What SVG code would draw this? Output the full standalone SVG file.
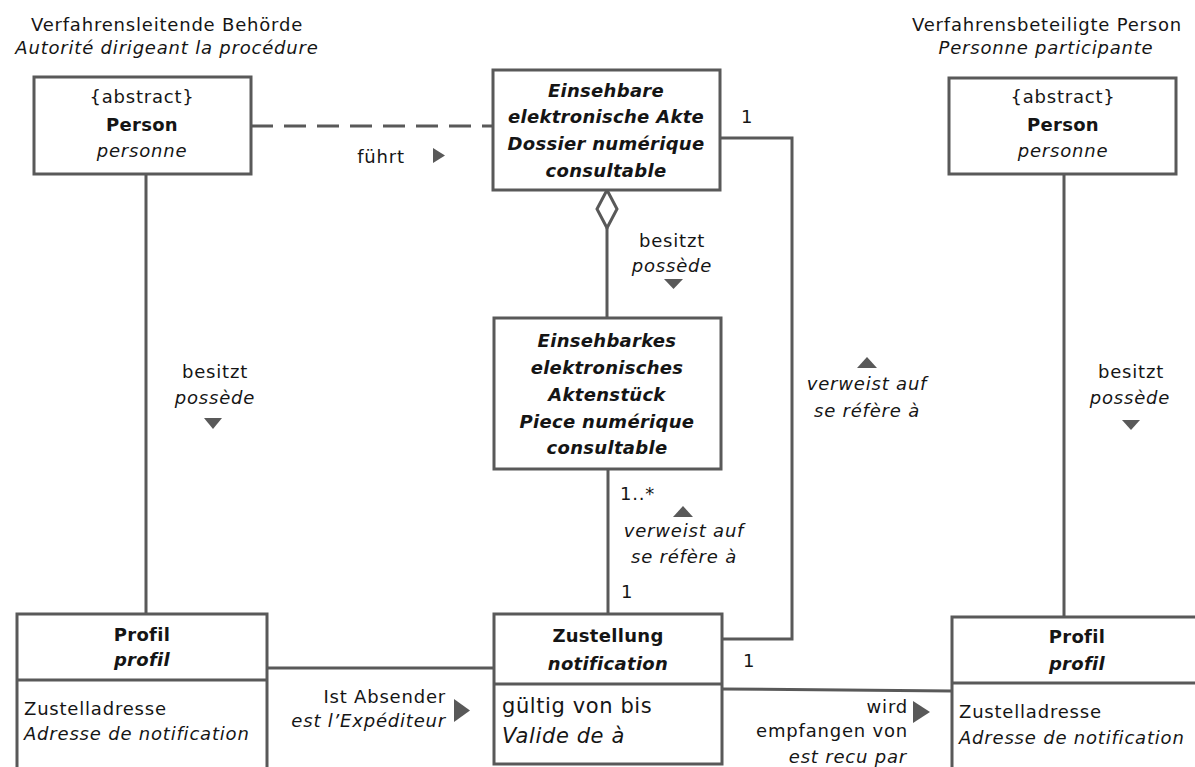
<svg xmlns="http://www.w3.org/2000/svg" width="1195" height="767" viewBox="0 0 1195 767">
  <style>
    text { font-family: "DejaVu Sans", Verdana, sans-serif; font-size: 18px; fill: #151515; letter-spacing: 0.8px; }
    .c { text-anchor: middle; }
    .r { text-anchor: end; }
    .b { font-weight: bold; letter-spacing: 0.3px; }
    .i { font-style: italic; }
    .big { font-size: 21px; letter-spacing: 0.6px; }
    .box { fill: #ffffff; stroke: #595959; stroke-width: 3; }
    .line { fill: none; stroke: #595959; stroke-width: 3; }
    .dash { stroke-dasharray: 22 11; }
    .tri { fill: #595959; }
  </style>

  <!-- role captions -->
  <g id="captions">
    <text class="c" x="167" y="31">Verfahrensleitende Behörde</text>
    <text class="c i" x="167" y="54">Autorité dirigeant la procédure</text>
    <text class="c" x="1047" y="31">Verfahrensbeteiligte Person</text>
    <text class="c i" x="1046" y="54">Personne participante</text>
  </g>

  <!-- connectors -->
  <g id="connectors">
    <line class="line dash" x1="251" y1="126" x2="493" y2="126"/>
    <line class="line" x1="146" y1="174" x2="146" y2="614"/>
    <line class="line" x1="1064" y1="174" x2="1064" y2="617"/>
    <polyline class="line" points="720,138 792,138 792,639 722,639"/>
    <line class="line" x1="607" y1="228" x2="607" y2="318"/>
    <polygon points="607,190 617,209 607,228 597,209" fill="#ffffff" stroke="#595959" stroke-width="3"/>
    <line class="line" x1="608" y1="469" x2="608" y2="614"/>
    <line class="line" x1="267" y1="668" x2="494" y2="668"/>
    <line class="line" x1="722" y1="689" x2="952" y2="691"/>
  </g>

  <!-- connector labels -->
  <g id="labels">
    <text class="c" x="381" y="163">führt</text>
    <polygon class="tri" points="433,148 445,155.5 433,163"/>

    <text x="741" y="123">1</text>

    <text class="c" x="672" y="247">besitzt</text>
    <text class="c i" x="672" y="272">possède</text>
    <polygon class="tri" points="664,279 683,279 673.5,289"/>

    <text class="c" x="215" y="378">besitzt</text>
    <text class="c i" x="215" y="404">possède</text>
    <polygon class="tri" points="204,418 222,418 213,429"/>

    <text class="c" x="1131" y="378">besitzt</text>
    <text class="c i" x="1130" y="404">possède</text>
    <polygon class="tri" points="1122,420 1140,420 1131,430"/>

    <polygon class="tri" points="857,368 877,368 867,357"/>
    <text class="c i" x="867" y="390">verweist auf</text>
    <text class="c i" x="867" y="417">se réfère à</text>

    <text x="620" y="500">1..*</text>
    <polygon class="tri" points="673,517 693,517 683,506"/>
    <text class="c i" x="684" y="537">verweist auf</text>
    <text class="c i" x="684" y="563">se réfère à</text>
    <text x="621" y="598">1</text>

    <text x="743" y="667">1</text>

    <text class="r" x="446" y="703">Ist Absender</text>
    <text class="r i" x="446" y="727">est l’Expéditeur</text>
    <polygon class="tri" points="454,699 470,710.5 454,722"/>

    <text class="r" x="908" y="713">wird</text>
    <polygon class="tri" points="913,701 930,712 913,723"/>
    <text class="r" x="908" y="737">empfangen von</text>
    <text class="r i" x="907" y="763">est recu par</text>
  </g>

  <!-- classes -->
  <g id="person-behoerde">
    <rect class="box" x="34" y="77" width="217" height="97"/>
    <text class="c" x="142" y="103">{abstract}</text>
    <text class="c b" x="142" y="131">Person</text>
    <text class="c i" x="142" y="157">personne</text>
  </g>

  <g id="akte">
    <rect class="box" x="493" y="70" width="227" height="120"/>
    <text class="c b i" x="606" y="97">Einsehbare</text>
    <text class="c b i" x="606" y="123">elektronische Akte</text>
    <text class="c b i" x="606" y="150">Dossier numérique</text>
    <text class="c b i" x="606" y="177">consultable</text>
  </g>

  <g id="aktenstueck">
    <rect class="box" x="494" y="318" width="227" height="151"/>
    <text class="c b i" x="607" y="347">Einsehbarkes</text>
    <text class="c b i" x="607" y="374">elektronisches</text>
    <text class="c b i" x="607" y="401">Aktenstück</text>
    <text class="c b i" x="607" y="428">Piece numérique</text>
    <text class="c b i" x="607" y="454">consultable</text>
  </g>

  <g id="person-beteiligt">
    <rect class="box" x="949" y="78" width="227" height="96"/>
    <text class="c" x="1063" y="103">{abstract}</text>
    <text class="c b" x="1063" y="131">Person</text>
    <text class="c i" x="1063" y="157">personne</text>
  </g>

  <g id="profil-behoerde">
    <rect class="box" x="17" y="614" width="250" height="170"/>
    <line class="line" x1="17" y1="680" x2="267" y2="680"/>
    <text class="c b" x="142" y="641">Profil</text>
    <text class="c b i" x="142" y="666">profil</text>
    <text x="24" y="715">Zustelladresse</text>
    <text class="i" x="24" y="740">Adresse de notification</text>
  </g>

  <g id="zustellung">
    <rect class="box" x="494" y="614" width="228" height="150"/>
    <line class="line" x1="494" y1="684" x2="722" y2="684"/>
    <text class="c b" x="608" y="642">Zustellung</text>
    <text class="c b i" x="608" y="670">notification</text>
    <text class="big" x="502" y="713">gültig von bis</text>
    <text class="big i" x="502" y="743">Valide de à</text>
  </g>

  <g id="profil-beteiligt">
    <rect class="box" x="952" y="617" width="260" height="170"/>
    <line class="line" x1="952" y1="683" x2="1212" y2="683"/>
    <text class="c b" x="1077" y="643">Profil</text>
    <text class="c b i" x="1077" y="670">profil</text>
    <text x="959" y="718">Zustelladresse</text>
    <text class="i" x="959" y="744">Adresse de notification</text>
  </g>
</svg>
